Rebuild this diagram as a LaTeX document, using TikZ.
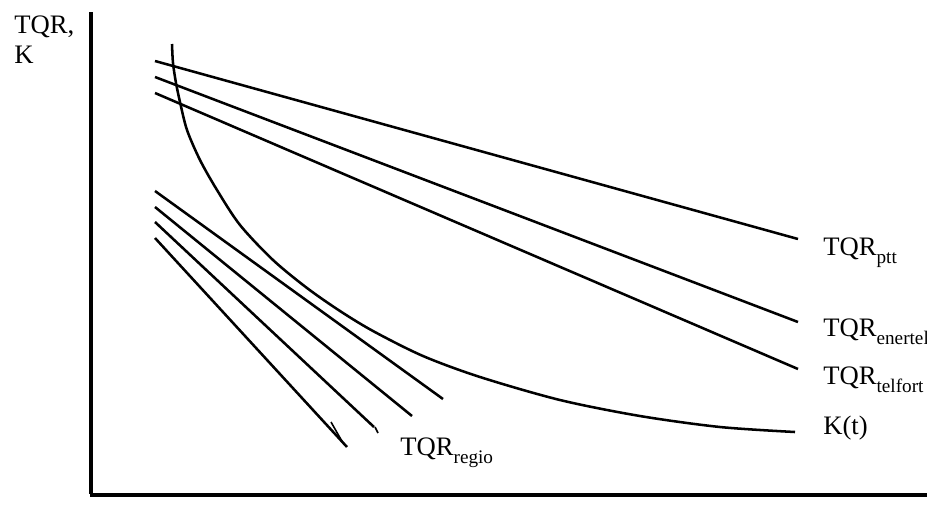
\documentclass[tikz,border=0pt]{standalone}
\usepackage{fontspec}
\setmainfont{Liberation Serif}
\usetikzlibrary{positioning}

\newcommand{\tqrsub}[1]{TQR\raisebox{-6pt}{\fontsize{14.4}{16}\selectfont #1}}

\begin{document}
\begin{tikzpicture}[x=0.75pt,y=-0.75pt,line width=1.9pt,
  lbl/.style={anchor=base west,inner sep=0pt,font=\fontsize{20}{24}\selectfont}]
\useasboundingbox (0,0) rectangle (927,526);

% assen
\draw[line width=2.4pt] (91,12) -- (91,494);
\draw[line width=3pt] (90,495) -- (927,495);

% landelijke aanbieders
\draw (155,61) -- (798,239);
\draw (155,77) -- (798,322);
\draw (155,93) -- (798,369);

% K(t)
\draw plot[smooth,tension=0.5] coordinates {(172,44) (173,63) (176,83) (180,102) (187,130)
  (200,160) (217,190) (240,225) (273,260) (307,288) (340,311) (373,331) (423,356)
  (480,377) (560,400) (640,416) (720,427) (795,432)};

% regionale aanbieders
\draw (155,191) -- (443,399);
\draw (155,207) -- (412,416);
\draw (155,222) -- (374,427);
\draw[line width=1.2pt] (375,427) -- (378,433);
\draw (155,238) -- (347,447);
\draw[line width=1.2pt] (331,422) -- (343,443);

% labels
\node[lbl] (y) at (13,33) {TQR,};
\node[lbl] (k) at (13,63) {K};
\node[lbl] (p) at (822,255) {\tqrsub{ptt}};
\node[lbl] (e) at (822,336) {\tqrsub{enertel}};
\node[lbl] (t) at (822,384) {\tqrsub{telfort}};
\node[lbl] (c) at (822,434) {K(t)};
\node[lbl] (r) at (399,455) {\tqrsub{regio}};
\end{tikzpicture}
\end{document}
